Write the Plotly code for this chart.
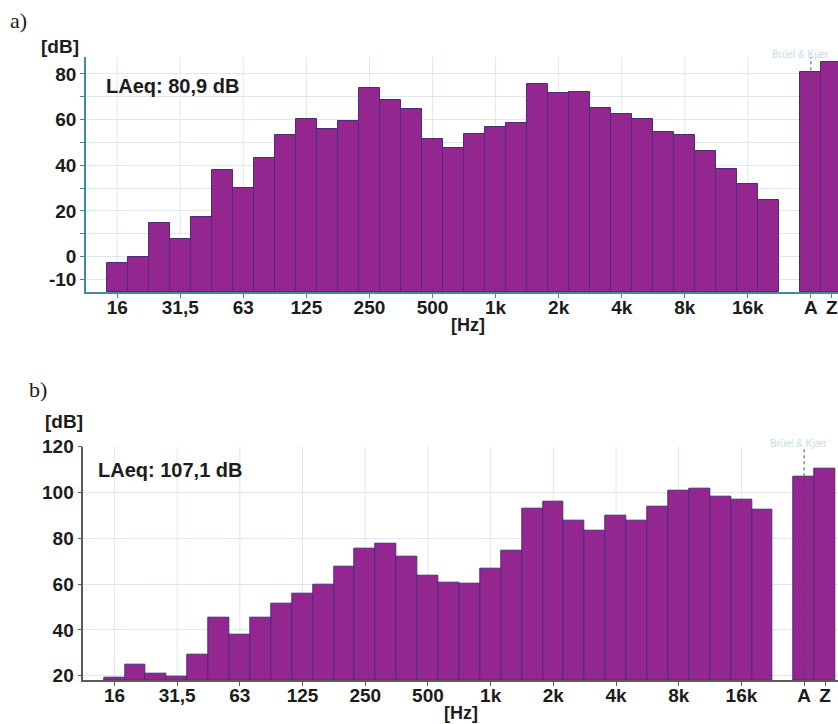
import plotly.graph_objects as go

# 1/3-octave band centre labels, 16 Hz .. 20 kHz
bands = ["16", "20", "25", "31,5", "40", "50", "63", "80", "100", "125", "160",
         "200", "250", "315", "400", "500", "630", "800", "1k", "1,25k", "1,6k",
         "2k", "2,5k", "3,15k", "4k", "5k", "6,3k", "8k", "10k", "12,5k", "16k", "20k"]
labeled_bands = ["16", "31,5", "63", "125", "250", "500", "1k", "2k", "4k", "8k", "16k"]
broadband = ["A", "Z"]

# Panel a) spectrum [dB] and broadband levels
spec_a = [-2.7, 0.0, 14.9, 7.7, 17.5, 37.8, 29.9, 43.4, 53.3, 60.4, 55.9, 59.4,
          73.7, 68.6, 64.8, 51.5, 47.5, 53.6, 56.6, 58.5, 75.5, 71.5, 72.2, 65.2,
          62.6, 60.1, 54.5, 53.3, 46.3, 38.5, 32.0, 24.7]
broad_a = [80.9, 85.4]
laeq_a = 80.9

# Panel b) spectrum [dB] and broadband levels
spec_b = [19.3, 25.0, 20.9, 19.7, 29.3, 45.3, 37.8, 45.3, 51.3, 55.6, 59.6, 67.5,
          75.6, 77.8, 72.0, 63.7, 60.6, 60.3, 66.6, 74.8, 93.1, 95.9, 87.6, 83.2,
          90.0, 87.9, 93.8, 101.0, 101.7, 98.0, 96.7, 92.4]
broad_b = [107.1, 110.6]
laeq_b = 107.1

y_range_a = [-15.6, 87.4]
y_ticks_a = [-10, 0, 10, 20, 30, 40, 50, 60, 70, 80]
y_labels_a = ["-10", "0", "", "20", "", "40", "", "60", "", "80"]
y_range_b = [18, 120]
y_ticks_b = [20, 40, 60, 80, 100, 120]

W, H = 838, 724
FONT = "Arial, Liberation Sans, sans-serif"
BAR_FILL = "#93278f"
BAR_EDGE = "#4a2c78"
GRID = "#dce7ee"
INK = "#1c1c1c"

x_bands = list(range(len(bands)))
x_broad = [len(bands) + 1 + i for i in range(len(broadband))]
tick_x = [bands.index(b) for b in labeled_bands] + x_broad
tick_text = labeled_bands + broadband

fig = go.Figure()


def add_panel(spec, broad, yr, xa, ya):
    base = yr[0]
    xs = x_bands + x_broad
    vals = spec + broad
    fig.add_trace(go.Bar(
        x=xs, y=[v - base for v in vals], base=base, width=1,
        marker=dict(color=BAR_FILL, line=dict(color=BAR_EDGE, width=1)),
        xaxis=xa, yaxis=ya, showlegend=False,
        customdata=vals, hovertemplate="%{customdata} dB<extra></extra>"))
    # vertical grid at labelled band centres
    for b in labeled_bands:
        fig.add_shape(type="line", xref=xa, yref=ya + " domain",
                      x0=bands.index(b), x1=bands.index(b), y0=0, y1=1,
                      line=dict(color=GRID, width=1), layer="below")
    # cursor on the A-weighted bar
    fig.add_shape(type="line", xref=xa, yref=ya + " domain",
                  x0=x_broad[0], x1=x_broad[0], y0=0, y1=1,
                  line=dict(color="#4a4a5a", width=1, dash="dot"), layer="above")


add_panel(spec_a, broad_a, y_range_a, "x", "y")
add_panel(spec_b, broad_b, y_range_b, "x2", "y2")

xtickfont = dict(family=FONT, size=19, color=INK, weight="bold")
ytickfont = dict(family=FONT, size=19, color=INK, weight="bold")

xcommon = dict(tickmode="array", tickvals=tick_x, ticktext=tick_text,
               ticks="outside", ticklen=4, showgrid=False, zeroline=False,
               tickfont=xtickfont, showline=True, linewidth=1.5,
               automargin=False, ticklabelstandoff=-7,
               ticklabeloverflow="allow")
ycommon = dict(tickmode="array", ticks="outside", ticklen=4,
               showgrid=True, gridcolor=GRID, gridwidth=1, zeroline=False,
               showline=True, linewidth=1.5, tickfont=ytickfont,
               automargin=False)

fig.update_layout(
    width=W, height=H,
    margin=dict(l=0, r=0, t=0, b=0, autoexpand=False),
    paper_bgcolor="white", plot_bgcolor="white",
    bargap=0,
    xaxis=dict(domain=[86 / W, 1], range=[-1.485, 34.29], anchor="y",
               linecolor="#3f8c9c", tickcolor="#3f8c9c", **xcommon),
    yaxis=dict(domain=[1 - 292.3 / H, 1 - 57 / H], range=y_range_a, anchor="x",
               tickvals=y_ticks_a, ticktext=y_labels_a,
               tickcolor="#3f8c9c", linecolor="#3f8c9c", **ycommon),
    xaxis2=dict(domain=[83.3 / W, 1], range=[-1.49, 34.62], anchor="y2",
                linecolor="#5e5a58", tickcolor="#5e5a58", **xcommon),
    yaxis2=dict(domain=[1 - 680.3 / H, 1 - 446.7 / H], range=y_range_b, anchor="x2",
                tickvals=y_ticks_b,
                tickcolor="#5e5a58", linecolor="#5e5a58", **ycommon),
)


def note(text, px, py, size, xanchor="left", family=FONT, weight="bold", color=INK):
    fig.add_annotation(text=text, xref="paper", yref="paper",
                       x=px / W, y=1 - py / H, xanchor=xanchor, yanchor="middle",
                       showarrow=False,
                       font=dict(family=family, size=size, color=color, weight=weight))


SERIF = "Times New Roman, Liberation Serif, serif"
# panel a)
note("a)", 8, 20, 22, family=SERIF, weight="normal")
note("[dB]", 60, 46, 19, xanchor="center")
note(f"LAeq: {laeq_a:.1f} dB".replace(".", ","), 104, 86, 20)
note("[Hz]", 468, 325, 18, xanchor="center")
note("Brüel & Kjær", 800, 55, 10, xanchor="center", weight="normal", color="#c9dce7")
# panel b)
note("b)", 27, 389, 22, family=SERIF, weight="normal")
note("[dB]", 64, 421, 19, xanchor="center")
note(f"LAeq: {laeq_b:.1f} dB".replace(".", ","), 96, 470, 20)
note("[Hz]", 461, 713, 18, xanchor="center")
note("Brüel & Kjær", 798, 443, 10, xanchor="center", weight="normal", color="#c9dce7")

fig.write_html("out.html")
